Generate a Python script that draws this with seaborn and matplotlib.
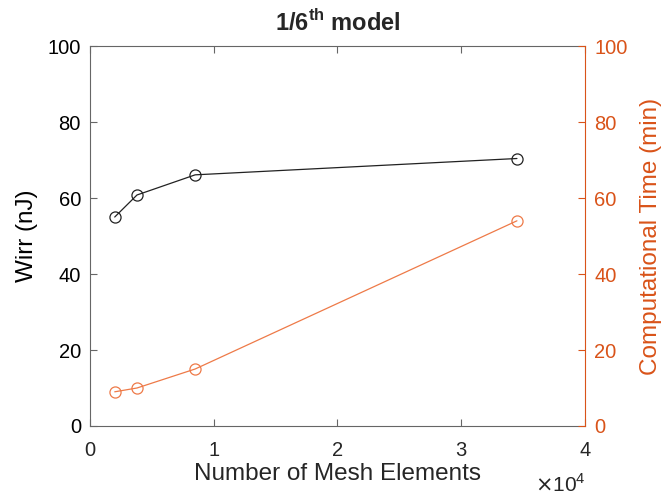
import matplotlib
matplotlib.use("Agg")
import matplotlib.pyplot as plt
import seaborn as sns
import pandas as pd

sns.set_theme(style="white")
plt.rcParams["font.family"] = ["Liberation Sans", "DejaVu Sans"]

# Mesh study for the 1/6th model
mesh_elements = [2000, 3800, 8500, 34500]
wirr_nj = [55.0, 60.8, 66.1, 70.4]
comp_time_min = [9.0, 10.0, 15.0, 54.0]

df = pd.DataFrame({"mesh": mesh_elements, "wirr": wirr_nj, "time": comp_time_min})

ORANGE = "#D95319"
ORANGE_LINE = "#EE7A48"
AX_GREY = "#666666"

fig = plt.figure(figsize=(6.65, 4.95), dpi=100)
ax = fig.add_axes([0.1353, 0.1394, 0.7444, 0.7676])
ax2 = ax.twinx()

sns.lineplot(data=df, x="mesh", y="wirr", ax=ax, color="#222222", lw=0.9,
             marker="o", markersize=8, markerfacecolor="none",
             markeredgecolor="#222222", markeredgewidth=0.9)
sns.lineplot(data=df, x="mesh", y="time", ax=ax2, color=ORANGE_LINE, lw=0.9,
             marker="o", markersize=8, markerfacecolor="none",
             markeredgecolor=ORANGE_LINE, markeredgewidth=0.9)

ax.set_xlim(0, 40000)
ax.set_ylim(0, 100)
ax2.set_ylim(0, 100)
ax.set_xticks([0, 10000, 20000, 30000, 40000])
ax.set_xticklabels(["0", "1", "2", "3", "4"])
ax.set_yticks(range(0, 101, 20))
ax2.set_yticks(range(0, 101, 20))

ax.set_xlabel("Number of Mesh Elements", fontsize=17.5, color="#262626", labelpad=2)
ax.set_ylabel("Wirr (nJ)", fontsize=17.5, color="black", labelpad=7)
ax2.set_ylabel("Computational Time (min)", fontsize=17.5, color=ORANGE, labelpad=9)
ax.set_title(r"1/6$^{\mathregular{th}}$ model", fontsize=17, fontweight="bold", pad=11)

for side in ["left", "bottom", "top"]:
    ax.spines[side].set_color(AX_GREY)
    ax.spines[side].set_linewidth(0.8)
ax.spines["right"].set_visible(False)
for side in ["left", "bottom", "top"]:
    ax2.spines[side].set_visible(False)
ax2.spines["right"].set_color(ORANGE)
ax2.spines["right"].set_linewidth(0.8)

ax.tick_params(axis="both", direction="in", length=5, width=0.8, color=AX_GREY,
               labelsize=14.5, labelcolor="black", top=True, bottom=True, left=True, right=False)
ax.tick_params(axis="x", pad=11, labelcolor="#262626")
ax.tick_params(axis="y", pad=6.5)
ax2.tick_params(axis="y", direction="in", length=5, width=0.8, color=ORANGE,
                labelsize=14.5, labelcolor=ORANGE, right=True, left=False, pad=6.5)

fig.text(0.8045, 0.006, r"$\times$10$^{\mathregular{4}}$", fontsize=15,
         color="#262626", va="baseline")

fig.savefig("out.png", dpi=100)
